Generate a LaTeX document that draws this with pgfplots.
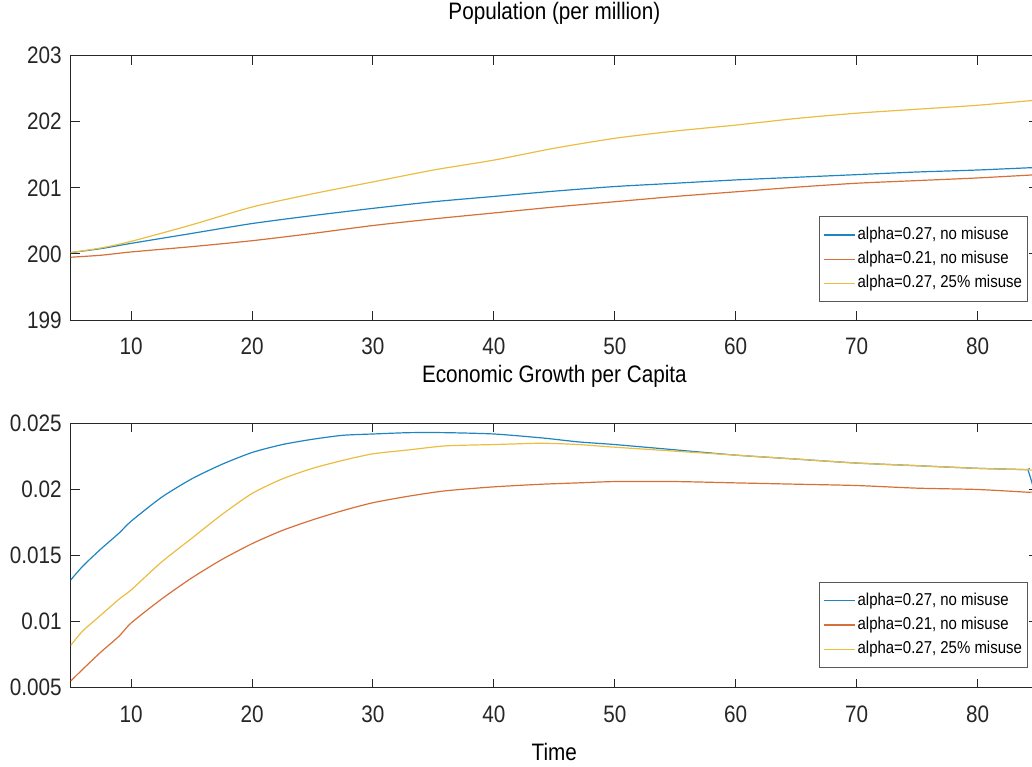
\documentclass[border=0pt]{standalone}
\usepackage{fontspec}
\setmainfont{Liberation Sans}[FakeStretch=0.87]
\usepackage{pgfplots}
\pgfplotsset{compat=1.18}
\usepackage{pgfplotstable}

\definecolor{mblue}{rgb}{0.12,0.52,0.76}
\definecolor{morange}{rgb}{0.84,0.44,0.22}
\definecolor{myellow}{rgb}{0.92,0.74,0.25}
\definecolor{axgray}{rgb}{0.15,0.15,0.15}

\pgfplotstableread{
t     blue    orange  yellow
5     200.02  199.95  200.02
7.5   200.08  199.98  200.09
10    200.16  200.03  200.19
15    200.31  200.11  200.44
20    200.46  200.20  200.71
25    200.58  200.31  200.91
30    200.69  200.43  201.09
35    200.79  200.53  201.27
40    200.87  200.62  201.42
45    200.95  200.71  201.60
50    201.02  200.79  201.75
55    201.07  200.87  201.86
60    201.12  200.94  201.95
65    201.16  201.01  202.05
70    201.20  201.07  202.13
75    201.24  201.11  202.19
80    201.27  201.15  202.25
85    201.31  201.20  202.33
}\poptable

\pgfplotstableread{
t     blue     orange   yellow
5     0.01315  0.0055   0.0082
6     0.0142   0.0064   0.0093
7.5   0.0155   0.0077   0.0105
9     0.0167   0.0089   0.0117
10    0.0176   0.0099   0.0124
12.5  0.0194   0.0117   0.0145
15    0.0208   0.0133   0.0163
17.5  0.0219   0.0147   0.0181
20    0.0228   0.0159   0.0197
22.5  0.0234   0.0169   0.0208
25    0.0238   0.0177   0.0216
27.5  0.0241   0.0184   0.0222
30    0.0242   0.0190   0.0227
33    0.0243   0.0195   0.0230
36    0.0243   0.0199   0.0233
40    0.0242   0.0202   0.0234
44    0.0239   0.0204   0.0235
47    0.0236   0.0205   0.0234
50    0.0234   0.0206   0.0232
55    0.0230   0.0206   0.0229
60    0.0226   0.0205   0.0226
65    0.0223   0.0204   0.0223
70    0.0220   0.0203   0.0220
75    0.0218   0.0201   0.0218
80    0.0216   0.0200   0.0216
84    0.0215   0.0198   0.0215
84.2  0.0214   0.0198   0.0215
85    0.0190   0.0198   0.0214
}\growtable

\pgfplotsset{
  mstyle/.style={
    scale only axis,
    width=483.65pt, height=132.15pt,
    xmin=5, xmax=85,
    xtick={10,20,...,80},
    axis line style={axgray, line width=0.5pt},
    every tick/.style={axgray, line width=0.5pt},
    major tick length=4.5pt,
    tick align=inside,
    scaled y ticks=false,
    /pgf/number format/assume math mode=true,
    tick label style={font=\fontsize{11.9}{14}\selectfont, text=axgray},
    yticklabel style={inner sep=0pt, xshift=-4.3pt},
    xticklabel style={inner sep=0pt, yshift=-8.8pt},
    legend cell align=left,
    legend style={
      font=\fontsize{8.6}{10}\selectfont,
      draw=black!65, line width=0.5pt,
      inner xsep=2pt, inner ysep=4pt,
      row sep=2pt,
      nodes={inner sep=0.8pt, text height=6.5pt, text depth=2pt},
    },
    legend image code/.code={\draw[#1] (0pt,0pt) -- (15.5pt,0pt);},
    every axis plot/.append style={line width=0.6pt, smooth, tension=0.4},
  }
}

\begin{document}
\begin{tikzpicture}
\begin{axis}[mstyle,
  at={(0,0)}, anchor=south west,
  ymin=199, ymax=203,
  ytick={199,200,201,202,203},
  title={Population (per million)},
  title style={at={(0.5,1)}, anchor=base, yshift=12.0pt, inner sep=0pt, font=\fontsize{11.9}{14}\selectfont},
  legend style={at={(0.9897,0.068)}, anchor=south east},
]
\addplot[mblue] table[x=t, y=blue] {\poptable};
\addplot[morange] table[x=t, y=orange] {\poptable};
\addplot[myellow] table[x=t, y=yellow] {\poptable};
\legend{{alpha=0.27, no misuse}, {alpha=0.21, no misuse}, {alpha=0.27, 25\% misuse}}
\end{axis}

\begin{axis}[mstyle,
  at={(0,-183.85pt)}, anchor=south west,
  ymin=0.005, ymax=0.025,
  ytick={0.005,0.01,0.015,0.02,0.025},
  yticklabels={0.005,0.01,0.015,0.02,0.025},
  title={Economic Growth per Capita},
  title style={at={(0.5,1)}, anchor=base, yshift=14.6pt, inner sep=0pt, font=\fontsize{11.9}{14}\selectfont},
  xlabel={Time},
  xlabel style={at={(0.5,0)}, anchor=base, yshift=-36.5pt, inner sep=0pt, font=\fontsize{11.9}{14}\selectfont},
  legend style={at={(0.9897,0.0756)}, anchor=south east},
]
\addplot[mblue] table[x=t, y=blue] {\growtable};
\addplot[morange] table[x=t, y=orange] {\growtable};
\addplot[myellow] table[x=t, y=yellow] {\growtable};
\legend{{alpha=0.27, no misuse}, {alpha=0.21, no misuse}, {alpha=0.27, 25\% misuse}}
\end{axis}

\pgfresetboundingbox
\path[use as bounding box] (-35.35pt,-223pt) rectangle (480.65pt,160pt);
\end{tikzpicture}
\end{document}
